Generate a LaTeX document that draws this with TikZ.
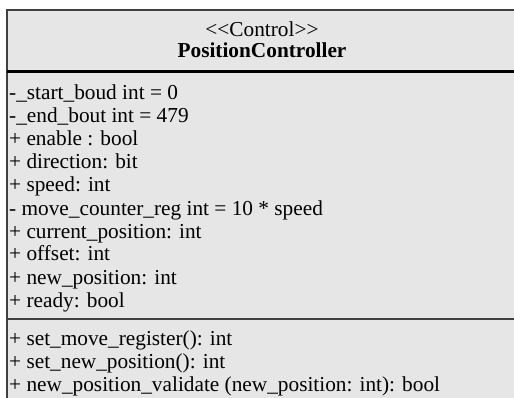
\documentclass[tikz,border=0pt]{standalone}
\usepackage{fontspec}
\setmainfont{Liberation Serif}
\definecolor{umlfill}{HTML}{E6E6E6}
\definecolor{umlline}{HTML}{404040}
\tikzset{
  member/.style={anchor=base west, inner sep=0pt, font=\fontsize{21.3}{23}\selectfont},
  title/.style={anchor=base, inner sep=0pt, font=\fontsize{21.3}{23}\selectfont},
}
\begin{document}
\begin{tikzpicture}[x=1pt,y=-1pt]
\useasboundingbox (0,0) rectangle (514,398);
\clip (0,0) rectangle (514,398);
\filldraw[fill=umlfill, draw=umlline, line width=2pt] (7,10) rectangle (540,420);
% header
\node[title] (stereo) at (262,37){{<}{<}Control{>}{>}};
\node[title, font=\fontsize{21.3}{23}\selectfont\bfseries] (cname) at (262,58){PositionController};
\coordinate (sepal) at (7,71.5);
\coordinate (separ) at (540,71.5);
\draw[line width=3pt, black](sepal) -- (separ);
% attributes
\node[member] (attr0) at (9,100){-\_start\_boud int = 0};
\node[member] (attr1) at (9,123){-\_end\_bout int = 479};
\node[member] (attr2) at (9,146){+ enable : bool};
\node[member] (attr3) at (9,169){+ direction: bit};
\node[member] (attr4) at (9,192){+ speed: int};
\node[member] (attr5) at (9,215){- move\_counter\_reg int = 10 * speed};
\node[member] (attr6) at (9,238){+ current\_position: int};
\node[member] (attr7) at (9,261){+ offset: int};
\node[member] (attr8) at (9,284){+ new\_position: int};
\node[member] (attr9) at (9,307){+ ready: bool};
\coordinate (sepbl) at (7,319);
\coordinate (sepbr) at (540,319);
\draw[line width=2pt, umlline](sepbl) -- (sepbr);
% methods
\node[member] (meth0) at (9,345){+ set\_move\_register(): int};
\node[member] (meth1) at (9,368){+ set\_new\_position(): int};
\node[member] (meth2) at (9,391){+ new\_position\_validate (new\_position: int): bool};
\end{tikzpicture}
\end{document}
